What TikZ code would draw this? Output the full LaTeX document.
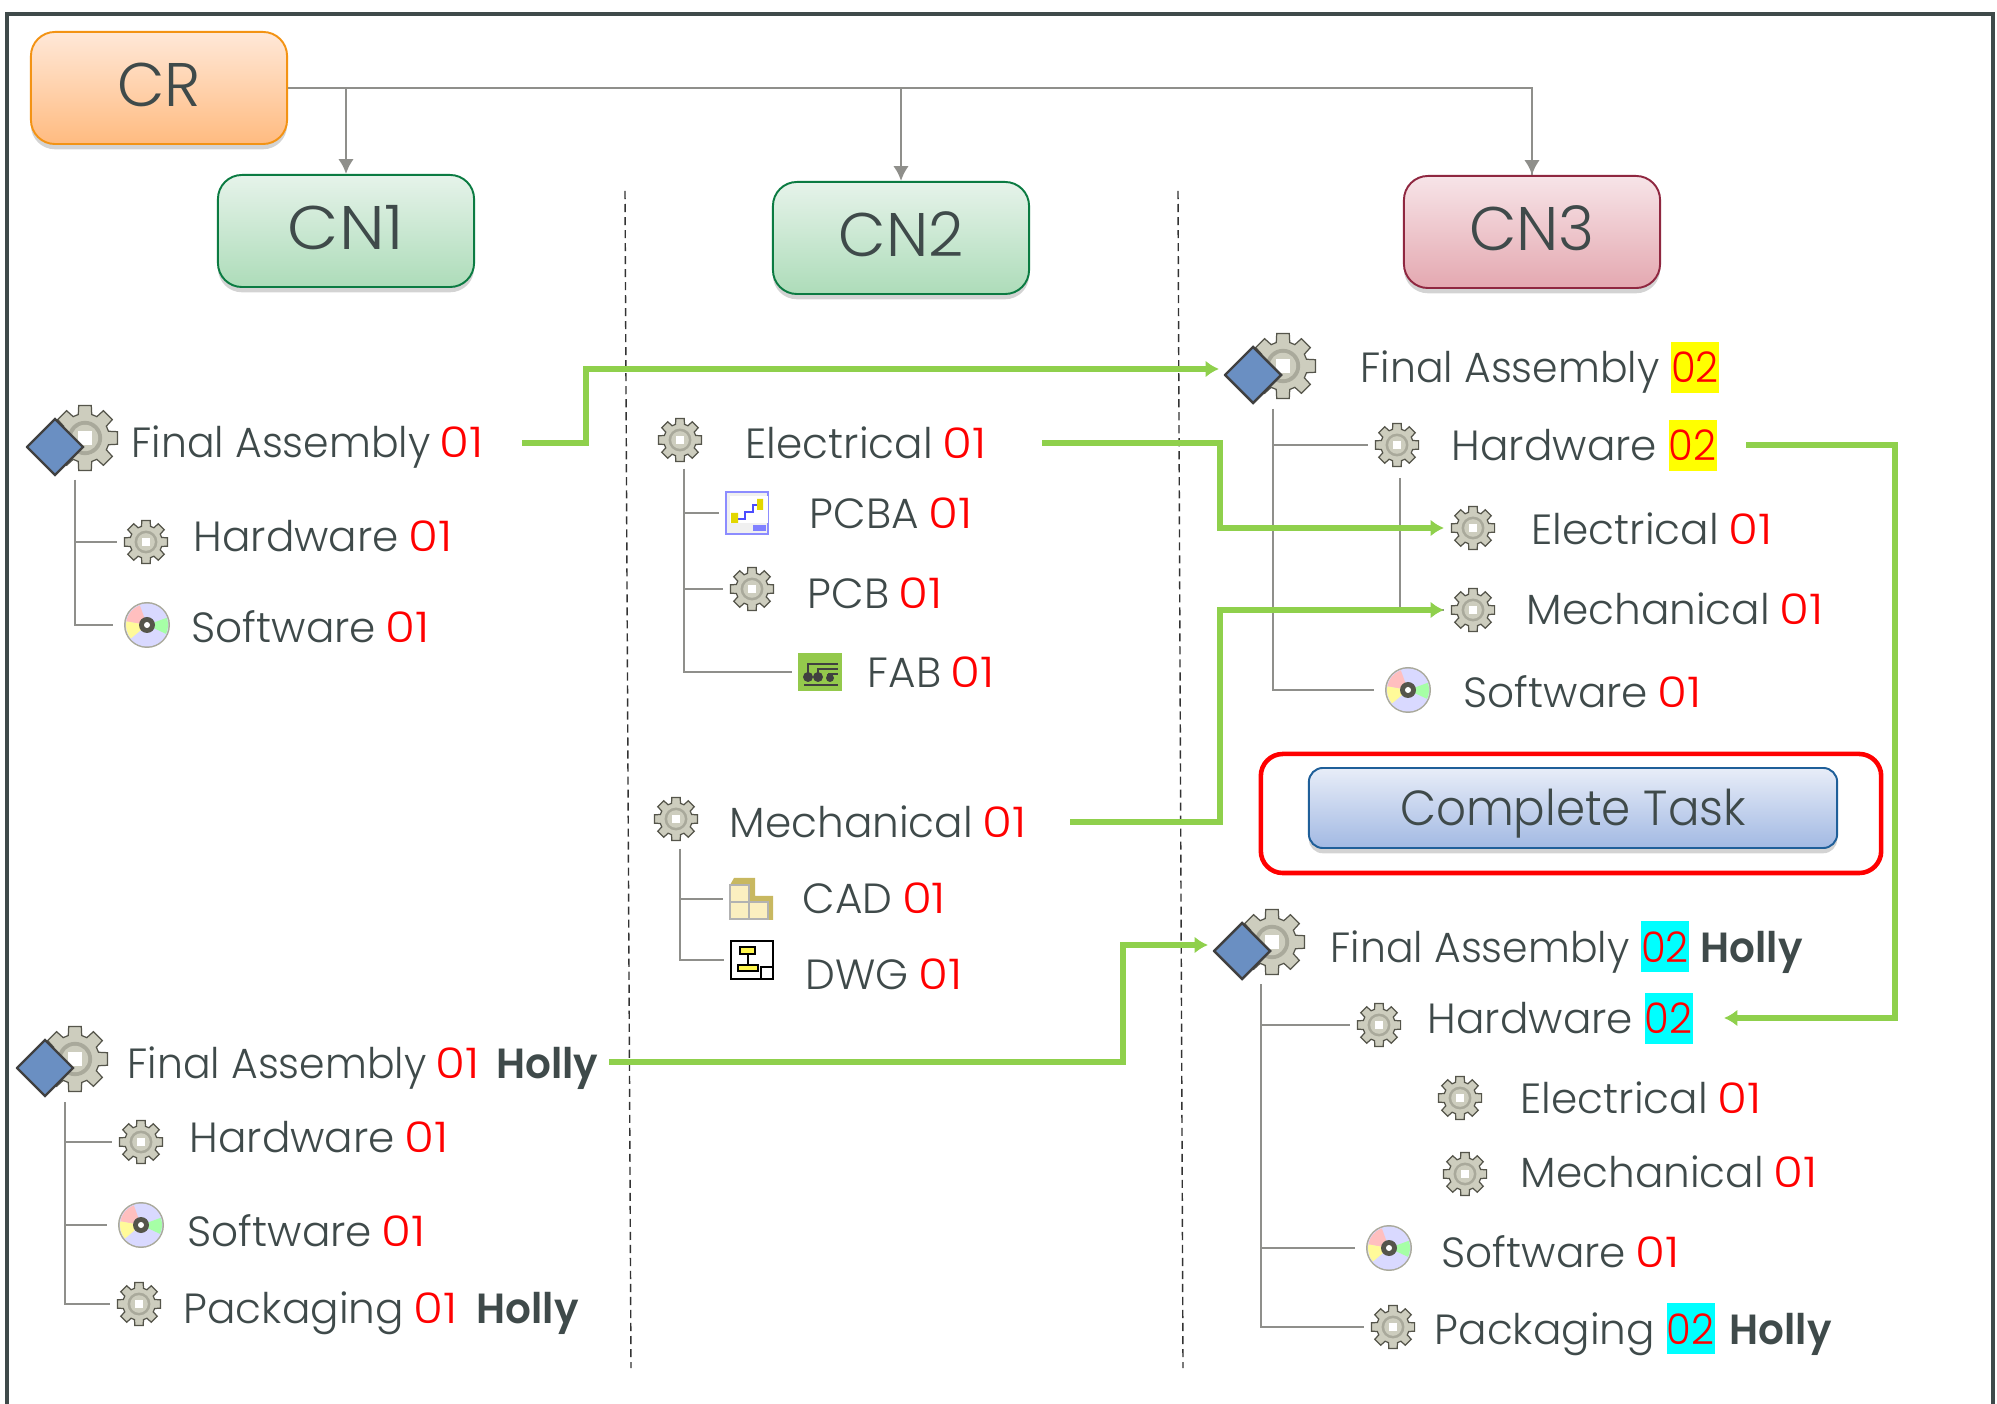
\documentclass[tikz,border=0pt]{standalone}
\usepackage{fontspec}
\setmainfont{Poppins Light}[BoldFont={Poppins SemiBold}]
\usepackage{xcolor}
\usepackage{graphicx}
\usetikzlibrary{arrows.meta, shadows}

\definecolor{txtdark}{HTML}{3F4A4A}
\definecolor{linegray}{HTML}{8F8F8B}
\definecolor{flowgreen}{HTML}{8FD04C}
\definecolor{gearfill}{HTML}{CDCDBE}
\definecolor{gearmid}{HTML}{A9A99B}
\definecolor{gearedge}{HTML}{55554B}
\definecolor{diamondblue}{HTML}{6A8FC2}
\definecolor{hlyellow}{HTML}{FFFF00}
\definecolor{hlcyan}{HTML}{00FFFF}
\definecolor{crdraw}{HTML}{F39314}
\definecolor{crtop}{HTML}{FFE8D8}
\definecolor{crbot}{HTML}{FFBB80}
\definecolor{cndraw}{HTML}{0B7B42}
\definecolor{cntop}{HTML}{E6F3EA}
\definecolor{cnbot}{HTML}{ADDCB9}
\definecolor{cnreddraw}{HTML}{8F2740}
\definecolor{cnredtop}{HTML}{F7E4E8}
\definecolor{cnredbot}{HTML}{E4A8B0}
\definecolor{taskdraw}{HTML}{1F5F99}
\definecolor{tasktop}{HTML}{E8EDF8}
\definecolor{taskbot}{HTML}{A2B9E3}
\definecolor{cubeface}{HTML}{FBEFC0}
\definecolor{cubeside}{HTML}{C8B860}

\newcommand{\rn}[1]{\hspace*{-0.6pt}\textcolor{red}{\scalebox{1.15}[1]{#1}}}
\newcommand{\hl}[2]{{\fboxsep=0pt\colorbox{#1}{\makebox[13.66pt]{\rule[-2.85pt]{0pt}{14.5pt}\textcolor{red}{\scalebox{0.95}[1]{#2}}}}}}
\newcommand{\fatxt}{\scalebox{0.97}[1]{Final Assembly}}
\newcommand{\holly}{\textbf{\scalebox{0.96}[1]{Holly}}}

\newcommand{\gearshape}[3]{
  \draw[fill=gearfill, draw=gearedge, line width=0.35pt]
    ({#1+#3*cos(-11)},{#2+#3*sin(-11)}) \foreach \a in {0,45,...,315} {
      -- ({#1+#3*cos(\a-11)},{#2+#3*sin(\a-11)}) -- ({#1+#3*cos(\a+11)},{#2+#3*sin(\a+11)})
      -- ({#1+0.74*#3*cos(\a+16)},{#2+0.74*#3*sin(\a+16)}) -- ({#1+0.74*#3*cos(\a+29)},{#2+0.74*#3*sin(\a+29)})} -- cycle;
  \fill[gearmid] (#1,#2) circle ({#3*0.52});
  \fill[gearfill] (#1,#2) circle ({#3*0.4});
  \fill[white] ({#1-#3*0.2},{#2-#3*0.2}) rectangle ({#1+#3*0.2},{#2+#3*0.2});
}
\newcommand{\discshape}{
  \fill[gearmid] (0,0) circle (23);
  \fill[white!85!blue] (0,0) circle (21.5);
  \fill[red!25] (0,0) -- (190:21) arc (190:250:21) -- cycle;
  \fill[green!35] (0,0) -- (-20:21) arc (-20:25:21) -- cycle;
  \fill[yellow!40] (0,0) -- (140:21) arc (140:190:21) -- cycle;
  \fill[blue!15] (0,0) -- (60:21) arc (60:120:21) -- cycle;
  \fill[gearedge] (0,0) circle (8);
  \fill[white] (0,0) circle (3);
}

\begin{document}
\begin{tikzpicture}[
    x=0.01cm, y=-0.01cm,
    frame/.style={draw=txtdark, line width=1pt},
    stepbox/.style={rectangle, rounded corners=0.24cm, minimum width=2.56cm, minimum height=1.12cm, line width=0.55pt, text=txtdark, text height=10.8pt, text depth=0pt, font=\fontsize{17.5}{20}\selectfont, drop shadow={shadow xshift=0pt, shadow yshift=-1.5pt, opacity=0.35}},
    crbox/.style={stepbox, draw=crdraw, top color=crtop, bottom color=crbot},
    cnbox/.style={stepbox, draw=cndraw, top color=cntop, bottom color=cnbot},
    cnredbox/.style={stepbox, draw=cnreddraw, top color=cnredtop, bottom color=cnredbot},
    taskbox/.style={stepbox, rounded corners=0.14cm, minimum width=5.28cm, minimum height=0.8cm, draw=taskdraw, top color=tasktop, bottom color=taskbot, text height=10.2pt, font=\fontsize{14}{16}\selectfont},
    lbl/.style={anchor=base west, inner sep=0pt, xshift=-0.02cm, text=txtdark, font=\fontsize{12}{14}\selectfont},
    tree/.style={draw=linegray, line width=0.55pt},
    crline/.style={draw=linegray, line width=0.8pt},
    crarrow/.style={crline, -{Latex[length=4.2pt, width=4.4pt]}},
    flow/.style={draw=flowgreen, line width=1.5pt, -{Latex[length=3.8pt, width=4.8pt]}},
    divider/.style={dash pattern=on 2.3pt off 1.4pt, line width=0.4pt, draw=black!80},
    gearicon/.style={inner sep=0pt, minimum size=0.46cm, outer sep=0.06cm, path picture={\gearshape{0}{0}{22}}},
    faicon/.style={inner sep=0pt, minimum width=0.92cm, minimum height=0.76cm, outer sep=0.05cm, path picture={
        \gearshape{13}{-3}{33}
        \draw[fill=diamondblue, draw=black!75, line width=0.7pt] (-45,6) -- (-17,-22) -- (11,6) -- (-17,34) -- cycle;
      }},
    discicon/.style={inner sep=0pt, minimum size=0.47cm, outer sep=0.1cm, path picture={\discshape}},
    pcbaicon/.style={inner sep=0pt, minimum size=0.44cm, outer sep=0.06cm, path picture={
        \draw[fill=black!6, draw=blue!45, line width=0.6pt] (-21,-21) rectangle (21,21);
        \fill[white] (-17,-17) rectangle (21,10);
        \draw[blue!70, line width=0.8pt] (-10,6) -- (-2,6) -- (-2,-1) -- (6,-1) -- (6,-8) -- (12,-8);
        \fill[yellow!75!olive] (-16,0) rectangle (-9,10) (10,-14) rectangle (16,-3);
        \fill[blue!50] (6,12) rectangle (19,18);
      }},
    fabicon/.style={inner sep=0pt, minimum width=0.44cm, minimum height=0.38cm, outer sep=0.06cm, path picture={
        \fill[green!50!black!60!yellow!70!white] (-22,-19) rectangle (22,19);
        \draw[black!75, line width=0.5pt] (-12,1) -- (-12,-8) -- (18,-8) (-2,1) -- (-2,-3) -- (18,-3) (8,2) -- (18,2) (-16,13) -- (18,13) (8,2) -- (8,8);
        \fill[black!75] (-12,5) circle (5) (-2,5) circle (5) (10,6) circle (4);
      }},
    cadicon/.style={inner sep=0pt, minimum width=0.46cm, minimum height=0.44cm, outer sep=0.06cm, path picture={
        \fill[cubeside] (-18,-21) -- (3,-21) -- (3,-3) -- (21,-3) -- (21,21) -- (-22,21) -- (-22,-14) -- cycle;
        \draw[fill=cubeface, draw=black!30, line width=0.3pt] (-22,-14) rectangle (-3,3);
        \draw[fill=cubeface, draw=black!30, line width=0.3pt] (-22,3) rectangle (-3,20);
        \draw[fill=cubeface, draw=black!30, line width=0.3pt] (-3,3) rectangle (16,20);
      }},
    dwgicon/.style={inner sep=0pt, minimum width=0.44cm, minimum height=0.4cm, outer sep=0.06cm, path picture={
        \draw[fill=white, draw=black, line width=0.8pt] (-21,-19) rectangle (21,19);
        \draw[fill=yellow!70, draw=black, line width=0.4pt] (-12,-13) rectangle (3,-6);
        \draw[fill=yellow!70, draw=black, line width=0.4pt] (-14,5) rectangle (6,11);
        \draw[black, line width=0.4pt] (-4,-6) -- (-4,5);
        \draw[black, line width=0.4pt] (9,7) rectangle (21,19);
      }}
]

\useasboundingbox (0,0) rectangle (1997,1404);

\draw[frame] (7,1404) -- (7,14) -- (1993,14) -- (1993,1404);
\draw[divider] (625,191) -- (631,1368);
\draw[divider] (1178,191) -- (1183,1368);

\node[crbox] (cr) at (159,88) {CR};
\node[cnbox] (cn1) at (346,231) {\scalebox{1.08}[1]{CN1}};
\node[cnbox] (cn2) at (901,238) {CN2};
\node[cnredbox] (cn3) at (1532,232) {CN3};
\draw[crline] (cr.east) -| (cn3.north);
\draw[crarrow] (cr.east -| cn1.north) -- (cn1.north);
\draw[crarrow] (cr.east -| cn2.north) -- (cn2.north);
\draw[crarrow] (cr.east -| cn3.north) -- (cn3.north);

\node[faicon] (fa1) at (72,441) {};
\node[gearicon] (hw1) at (146,542) {};
\node[discicon] (sw1) at (147,625) {};
\node[lbl] (fa1lbl) at (133,458) {\fatxt{} \rn{01}};
\node[lbl] (hw1lbl) at (195,552) {Hardware \rn{01}};
\node[lbl] (sw1lbl) at (193,643) {Software \rn{01}};
\coordinate (fa1tree) at (75,480);
\draw[tree] (fa1tree) |- (hw1.west);
\draw[tree] (fa1tree) |- (sw1.west);

\node[faicon] (fa1h) at (62,1062) {};
\node[gearicon] (hw1h) at (141,1142) {};
\node[discicon] (sw1h) at (141,1225) {};
\node[gearicon] (pk1h) at (139,1304) {};
\node[lbl] (fa1hlbl) at (129,1078) {\fatxt{} \rn{01}\hspace*{1.4pt} \holly};
\node[lbl] (hw1hlbl) at (191,1152) {Hardware \rn{01}};
\node[lbl] (sw1hlbl) at (189,1246) {Software \rn{01}};
\node[lbl] (pk1hlbl) at (185,1323) {Packaging \rn{01}\hspace*{2.2pt} \holly};
\coordinate (fa1htree) at (65,1102);
\draw[tree] (fa1htree) |- (hw1h.west);
\draw[tree] (fa1htree) |- (sw1h.west);
\draw[tree] (fa1htree) |- (pk1h.west);

\node[gearicon] (el1) at (680,440) {};
\node[pcbaicon] (pcba) at (747,513) {};
\node[gearicon] (pcb) at (752,589) {};
\node[fabicon] (fab) at (820,672) {};
\node[lbl] (el1lbl) at (747,459) {Electrical \rn{01}};
\node[lbl] (pcbalbl) at (811,529) {PCBA \rn{01}};
\node[lbl] (pcblbl) at (809,609) {PCB \rn{01}};
\node[lbl] (fablbl) at (869,688) {FAB \rn{01}};
\coordinate (el1tree) at (684,469);
\draw[tree] (el1tree) |- (pcba.west);
\draw[tree] (el1tree) |- (pcb.west);
\draw[tree] (el1tree) |- (fab.west);

\node[gearicon] (me1) at (676,819) {};
\node[cadicon] (cad) at (752,899) {};
\node[dwgicon] (dwg) at (752,960) {};
\node[lbl] (me1lbl) at (731,838) {Mechanical \rn{01}};
\node[lbl] (cadlbl) at (804,914) {CAD \rn{01}};
\node[lbl] (dwglbl) at (807,989) {DWG \rn{01}};
\coordinate (me1tree) at (680,849);
\draw[tree] (me1tree) |- (cad.west);
\draw[tree] (me1tree) |- (dwg.west);

\node[faicon] (fa2) at (1270,369) {};
\node[gearicon] (hw2) at (1397,445) {};
\node[gearicon] (el2) at (1473,528) {};
\node[gearicon] (me2) at (1473,610) {};
\node[discicon] (sw2) at (1408,690) {};
\node[lbl] (fa2lbl) at (1362,383) {\fatxt{} \hl{hlyellow}{02}};
\node[lbl] (hw2lbl) at (1453,461) {Hardware \hl{hlyellow}{02}};
\node[lbl] (el2lbl) at (1533,545) {Electrical \rn{01}};
\node[lbl] (me2lbl) at (1528,625) {Mechanical \rn{01}};
\node[lbl] (sw2lbl) at (1465,708) {Software \rn{01}};
\coordinate (fa2tree) at (1273,409);
\coordinate (hw2tree) at (1400,478);
\draw[tree] (fa2tree) |- (hw2.west);
\draw[tree] (fa2tree) |- (sw2.west);
\draw[tree] (hw2tree) |- (me2.west);

\node[taskbox] (task) at (1573,808) {\scalebox{0.95}[1]{Complete Task}};
\node[draw=red, line width=1.3pt, rounded corners=0.22cm, minimum width=6.2cm, minimum height=1.19cm] (taskring) at (1571,813.5) {};

\node[faicon] (fa3) at (1259,945) {};
\node[gearicon] (hw3) at (1379,1025) {};
\node[gearicon] (el3) at (1460,1098) {};
\node[gearicon] (me3) at (1465,1174) {};
\node[discicon] (sw3) at (1389,1248) {};
\node[gearicon] (pk3) at (1393,1327) {};
\node[lbl] (fa3lbl) at (1332,962) {\fatxt{} \hl{hlcyan}{02} \holly};
\node[lbl] (hw3lbl) at (1429,1034) {Hardware \hl{hlcyan}{02}};
\node[lbl] (el3lbl) at (1522,1113) {Electrical \rn{01}};
\node[lbl] (me3lbl) at (1522,1187) {Mechanical \rn{01}};
\node[lbl] (sw3lbl) at (1443,1267) {Software \rn{01}};
\node[lbl] (pk3lbl) at (1436,1344) {Packaging \hl{hlcyan}{02}\hspace*{1pt} \holly};
\coordinate (fa3tree) at (1261,984);
\draw[tree] (fa3tree) |- (hw3.west);
\draw[tree] (fa3tree) |- (sw3.west);
\draw[tree] (fa3tree) |- (pk3.west);

\coordinate (fa1out) at (522,443);
\coordinate (el1out) at (1042,443);
\coordinate (me1out) at (1070,822);
\coordinate (hw2out) at (1746,445);
\coordinate (hw3in) at (1724,1018);
\coordinate (fa1hout) at (609,1062);
\draw[flow] (fa1out) -- ++(64,0) |- (fa2.west);
\draw[flow] (el1out) -- ++(178,0) |- (el2.west);
\draw[flow] (me1out) -- ++(150,0) |- (me2.west);
\draw[flow] (hw2out) -- ++(149,0) |- (hw3in);
\draw[flow] (fa1hout) -- ++(514,0) |- (fa3.west);

\end{tikzpicture}
\end{document}
